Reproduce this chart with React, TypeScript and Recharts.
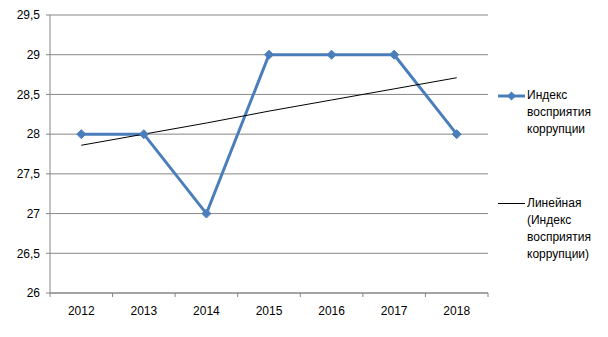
import { LineChart, Line, XAxis, YAxis, CartesianGrid, Legend } from 'recharts';

const years = ['2012', '2013', '2014', '2015', '2016', '2017', '2018'];
const cpiValues = [28, 28, 27, 29, 29, 29, 28];
// linear trend
const trendValues = [27.86, 28.0, 28.14, 28.29, 28.43, 28.57, 28.71];
const yTicks = [26, 26.5, 27, 27.5, 28, 28.5, 29, 29.5];

const BLUE = '#4a7ebb';
const GRID = '#868686';
const FONT = '"Liberation Sans", Arial, sans-serif';

const data = years.map((year, i) => ({
  x: i + 0.5,
  year,
  cpi: cpiValues[i],
  trend: trendValues[i],
}));

const Diamond = (props: any) => {
  const { cx, cy } = props;
  if (cx == null || cy == null) return null;
  const r = 4.5;
  return (
    <polygon
      points={`${cx},${cy - r} ${cx + r},${cy} ${cx},${cy + r} ${cx - r},${cy}`}
      fill={BLUE}
      stroke={BLUE}
    />
  );
};

const LegendBox = () => {
  const textStyle = { fontSize: 12, lineHeight: '17px', color: '#000', fontFamily: FONT };
  return (
    <div>
      <div style={{ display: 'flex', alignItems: 'flex-start' }}>
        <svg width={30} height={17} style={{ flexShrink: 0 }}>
          <line x1={1} y1={9} x2={28} y2={9} stroke={BLUE} strokeWidth={3} />
          <polygon points="14.5,4.5 19,9 14.5,13.5 10,9" fill={BLUE} />
        </svg>
        <div style={textStyle}>
          Индекс
          <br />
          восприятия
          <br />
          коррупции
        </div>
      </div>
      <div style={{ display: 'flex', alignItems: 'flex-start', marginTop: 57 }}>
        <svg width={30} height={17} style={{ flexShrink: 0 }}>
          <line x1={1} y1={8.5} x2={28} y2={8.5} stroke="#000" strokeWidth={1} />
        </svg>
        <div style={textStyle}>
          Линейная
          <br />
          (Индекс
          <br />
          восприятия
          <br />
          коррупции)
        </div>
      </div>
    </div>
  );
};

export default function App() {
  return (
    <div style={{ position: 'absolute', left: 0, top: 0, background: '#fff' }}>
      <LineChart
        width={608}
        height={337}
        data={data}
        margin={{ top: 15, right: 10, left: 0, bottom: 0 }}
      >
        <CartesianGrid vertical={false} stroke={GRID} xAxisId="grid" />
        <XAxis
          xAxisId="grid"
          dataKey="x"
          type="number"
          domain={[0, 7]}
          ticks={[0, 1, 2, 3, 4, 5, 6, 7]}
          interval={0}
          tickFormatter={() => ''}
          tickSize={4}
          height={5}
          stroke={GRID}
        />
        <XAxis
          xAxisId="lab"
          dataKey="x"
          type="number"
          domain={[0, 7]}
          ticks={[0.5, 1.5, 2.5, 3.5, 4.5, 5.5, 6.5]}
          interval={0}
          tickFormatter={(v: number) => years[Math.floor(v)]}
          axisLine={false}
          tickLine={false}
          height={39}
          tick={{ fontSize: 12, fill: '#000', fontFamily: FONT }}
        />
        <YAxis
          domain={[26, 29.5]}
          ticks={yTicks}
          interval={0}
          width={50}
          tickSize={4}
          tickMargin={6}
          stroke={GRID}
          tickFormatter={(v: number) => String(v).replace('.', ',')}
          tick={{ fontSize: 12, fill: '#000', fontFamily: FONT }}
        />
        <Legend
          layout="vertical"
          align="right"
          verticalAlign="middle"
          width={110}
          content={<LegendBox />}
          wrapperStyle={{ position: 'absolute', left: 497, top: 87, width: 110 }}
        />
        <Line
          xAxisId="grid"
          type="linear"
          dataKey="cpi"
          stroke={BLUE}
          strokeWidth={3}
          dot={<Diamond />}
          activeDot={false}
          isAnimationActive={false}
        />
        <Line
          xAxisId="grid"
          type="linear"
          dataKey="trend"
          stroke="#000"
          strokeWidth={1}
          dot={false}
          activeDot={false}
          isAnimationActive={false}
        />
      </LineChart>
    </div>
  );
}
